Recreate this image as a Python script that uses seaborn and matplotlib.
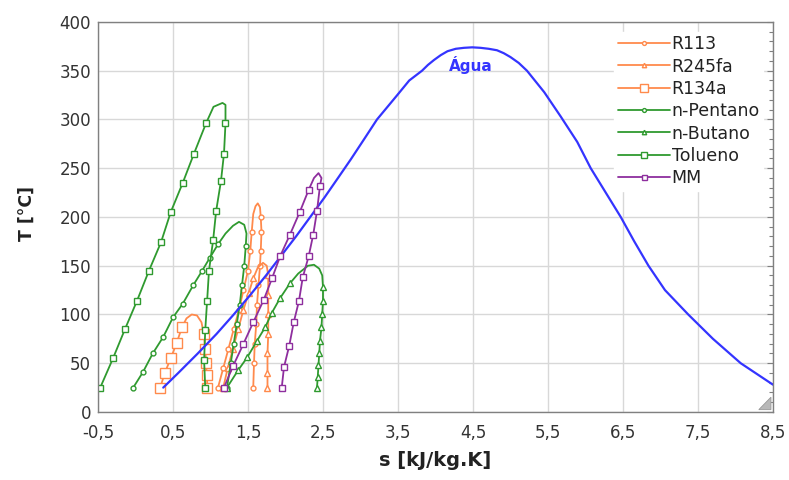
"""
T-s diagram: water vs. ORC working fluids
"""

# %% --------------------------------------------------------------------------
# Imports
# -----------------------------------------------------------------------------
import numpy as np
import matplotlib
matplotlib.use("Agg")
import matplotlib.pyplot as plt
from matplotlib.lines import Line2D
from matplotlib.patches import Polygon
from matplotlib.ticker import FixedLocator, MultipleLocator
import seaborn as sns

# %% --------------------------------------------------------------------------
# Data
# -----------------------------------------------------------------------------
agua_s = [0.37, 0.57, 0.83, 1.08, 1.31, 1.53, 1.74, 1.94, 2.14, 2.33, 2.52, 2.70,
          2.87, 3.05, 3.22, 3.49, 3.65, 3.82, 3.90, 3.98, 4.07, 4.16, 4.27, 4.38,
          4.49, 4.60, 4.71, 4.82, 4.91, 5.00, 5.11, 5.22, 5.45, 5.67, 5.89,
          6.07, 6.27, 6.47, 6.65, 6.84, 7.06, 7.37, 7.70, 8.07, 8.50]
agua_T = [25, 40, 60, 80, 100, 120, 140, 160, 180, 200, 220, 240,
          259, 280, 300, 325, 340, 350, 356, 361, 366, 370, 372.5, 373.5,
          374, 373.5, 372.5, 371, 368, 364, 358, 350, 328, 303, 277,
          250, 225, 200, 175, 150, 125, 100, 75, 50, 28]

r113_s = [1.10, 1.17, 1.24, 1.31, 1.38, 1.44, 1.50, 1.53, 1.55, 1.57, 1.60, 1.63,
          1.66, 1.67, 1.68, 1.67, 1.66, 1.64, 1.62, 1.61, 1.59, 1.58, 1.57]
r113_T = [25, 45, 65, 85, 105, 125, 145, 165, 185, 203, 211, 214,
          210, 200, 185, 165, 150, 130, 110, 90, 70, 50, 25]

r245fa_s = [1.17, 1.23, 1.30, 1.37, 1.44, 1.51, 1.57, 1.63, 1.70,
            1.75, 1.77, 1.77, 1.77, 1.77, 1.76, 1.76, 1.76]
r245fa_T = [25, 45, 65, 85, 105, 122, 137, 148, 153,
            150, 140, 120, 100, 80, 60, 40, 25]

r134a_s = [0.33, 0.39, 0.47, 0.55, 0.62, 0.68, 0.75, 0.82, 0.88,
           0.91, 0.93, 0.94, 0.95, 0.96]
r134a_T = [25, 40, 55, 71, 87, 96, 100, 99, 92,
           80, 65, 50, 38, 25]

pentano_s = [-0.03, 0.10, 0.23, 0.37, 0.50, 0.63, 0.77, 0.89, 0.99, 1.10, 1.20,
             1.30, 1.38, 1.45, 1.48, 1.47, 1.45, 1.42, 1.39, 1.35, 1.31, 1.27, 1.22]
pentano_T = [25, 41, 60, 77, 97, 111, 130, 145, 158, 172, 183,
             191, 195, 192, 183, 170, 150, 130, 110, 90, 70, 50, 25]

butano_s = [1.22, 1.37, 1.49, 1.62, 1.73, 1.82, 1.93, 2.06, 2.17, 2.30, 2.38, 2.45,
            2.49, 2.50, 2.50, 2.49, 2.48, 2.46, 2.45, 2.44, 2.43, 2.42]
butano_T = [25, 43, 56, 73, 87, 102, 117, 132, 142, 150, 151, 147,
            140, 128, 114, 101, 87, 73, 60, 48, 36, 25]

tolueno_s = [-0.47, -0.30, -0.14, 0.02, 0.18, 0.34, 0.47, 0.63, 0.78, 0.94, 1.04,
             1.16, 1.20, 1.20, 1.18, 1.14, 1.075, 1.035, 0.98, 0.955, 0.93, 0.915, 0.93]
tolueno_T = [25, 55, 85, 114, 145, 174, 205, 235, 265, 296, 313,
             317, 315, 296, 265, 237, 206, 176, 145, 114, 84, 53, 25]

mm_s = [1.18, 1.30, 1.44, 1.57, 1.71, 1.82, 1.93, 2.06, 2.19, 2.31, 2.38, 2.44,
        2.48, 2.46, 2.42, 2.37, 2.31, 2.23, 2.18, 2.11, 2.05, 1.98, 1.95]
mm_T = [25, 47, 70, 92, 115, 137, 160, 182, 205, 228, 240, 245,
        240, 232, 206, 182, 160, 138, 114, 92, 68, 46, 25]

x_ticks = [-0.5, 0.5, 1.5, 2.5, 3.5, 4.5, 5.5, 6.5, 7.5, 8.5]
x_tick_labels = ["-0,5", "0,5", "1,5", "2,5", "3,5", "4,5", "5,5", "6,5", "7,5", "8,5"]
y_ticks = [0, 50, 100, 150, 200, 250, 300, 350, 400]

# %% --------------------------------------------------------------------------
# Style
# -----------------------------------------------------------------------------
ORANGE = "#ff8a4c"
GREEN = "#2f9a2f"
PURPLE = "#8e2e9e"
BLUE = "#3434ff"

sns.set_theme(style="whitegrid")
plt.rcParams["font.family"] = ["DejaVu Sans"]

# name, s, T, colour, marker, marker size
fluids = [
    ("R113", r113_s, r113_T, ORANGE, "o", 3.5),
    ("R245fa", r245fa_s, r245fa_T, ORANGE, "^", 4),
    ("R134a", r134a_s, r134a_T, ORANGE, "s", 6.5),
    ("n-Pentano", pentano_s, pentano_T, GREEN, "o", 3.5),
    ("n-Butano", butano_s, butano_T, GREEN, "^", 4),
    ("Tolueno", tolueno_s, tolueno_T, GREEN, "s", 5),
    ("MM", mm_s, mm_T, PURPLE, "s", 4.5),
]

# %% --------------------------------------------------------------------------
# Plot
# -----------------------------------------------------------------------------
fig = plt.figure(figsize=(7.89, 4.80), dpi=100)
ax = fig.add_axes([0.1242, 0.1417, 0.8555, 0.8125])


def draw_fluid(name, s, T, color, marker, ms):
        # no markers around the top of the dome
        mark = [i for i, t in enumerate(T) if t < max(T) - 12]
        sns.lineplot(x=s, y=T, sort=False, estimator=None, ax=ax, color=color,
                     lw=1.3, marker=marker, markevery=mark, ms=ms,
                     mfc="white", mec=color, mew=1.0, legend=False)


for f in fluids[:6]:
        draw_fluid(*f)

sns.lineplot(x=agua_s, y=agua_T, sort=False, estimator=None, ax=ax,
             color=BLUE, lw=1.6, legend=False)

draw_fluid(*fluids[6])

ax.text(4.47, 356, "Água", color=BLUE, fontsize=11, fontweight="bold",
        ha="center", va="center")

ax.set_xlim(-0.5, 8.5)
ax.set_ylim(0, 400)
ax.set_xticks(x_ticks)
ax.set_xticklabels(x_tick_labels)
ax.set_yticks(y_ticks)
ax.xaxis.set_minor_locator(FixedLocator(np.arange(-0.5, 8.51, 0.2)))
ax.yaxis.set_minor_locator(MultipleLocator(10))

ax.tick_params(which="both", direction="in", right=True, top=False,
               color="#808080", width=0.8)
ax.tick_params(which="major", length=4, labelsize=12, labelcolor="#333333")
ax.tick_params(which="minor", length=3)
ax.tick_params(axis="x", pad=9)
ax.tick_params(axis="y", pad=5)

ax.grid(which="major", color="#d8d8d8", lw=1)
ax.grid(which="minor", visible=False)
for sp in ax.spines.values():
        sp.set_color("#808080")
        sp.set_linewidth(1)

ax.set_xlabel("s [kJ/kg.K]", fontsize=14, fontweight="bold", color="#222222")
ax.set_ylabel("T [°C]", fontsize=12.5, fontweight="bold", color="#222222")
ax.xaxis.set_label_coords(0.5, -0.1)
ax.yaxis.set_label_coords(-0.092, 0.51)

# resize grip in the corner
ax.add_patch(Polygon([(0.997, 0.006), (0.997, 0.038), (0.979, 0.006)],
                     closed=True, transform=ax.transAxes,
                     facecolor="#b8b8b8", edgecolor="#999999", lw=0.6))

handles = [Line2D([0], [0], color=c, lw=1.3, marker=m, ms=ms * 0.8,
                  mfc="white", mec=c, mew=1.0)
           for _, _, _, c, m, ms in fluids]
labels = [f[0] for f in fluids]
leg = ax.legend(handles, labels, loc="upper left", bbox_to_anchor=(0.765, 0.975),
                borderaxespad=0, fontsize=12.5, handlelength=3.0, handletextpad=0.1,
                labelspacing=0.25, borderpad=0.2, frameon=True, fancybox=False,
                facecolor="white", edgecolor="white", framealpha=1)
for t in leg.get_texts():
        t.set_color("#222222")

fig.savefig("out.png", dpi=100)
